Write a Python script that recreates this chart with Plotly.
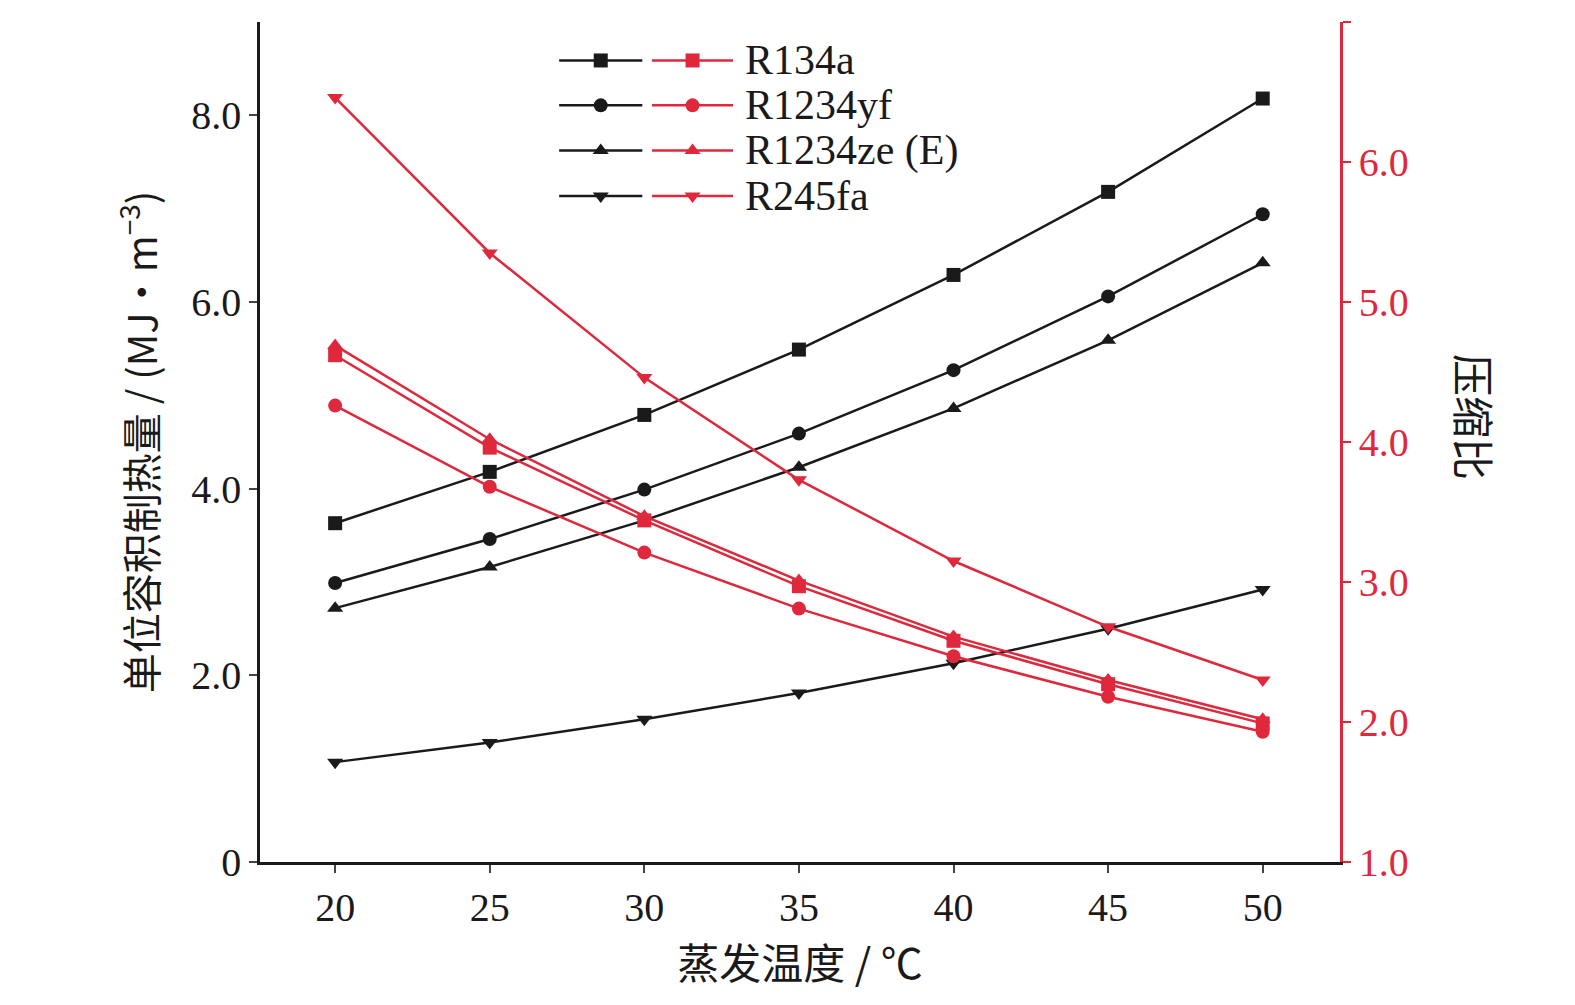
import plotly.graph_objects as go

temps = [20, 25, 30, 35, 40, 45, 50]
names = ["R134a", "R1234yf", "R1234ze (E)", "R245fa"]
symbols = ["square", "circle", "triangle-up", "triangle-down"]
heat_R134a = [3.63, 4.18, 4.79, 5.49, 6.29, 7.18, 8.18]
heat_R1234yf = [2.99, 3.46, 3.99, 4.59, 5.27, 6.06, 6.94]
heat_R1234ze = [2.72, 3.16, 3.66, 4.23, 4.86, 5.59, 6.42]
heat_R245fa = [1.07, 1.28, 1.53, 1.81, 2.13, 2.50, 2.92]
pr_R134a = [4.62, 3.96, 3.44, 2.97, 2.58, 2.27, 1.99]
pr_R1234yf = [4.26, 3.68, 3.21, 2.81, 2.47, 2.18, 1.93]
pr_R1234ze = [4.69, 4.02, 3.47, 3.01, 2.61, 2.30, 2.02]
pr_R245fa = [6.46, 5.35, 4.46, 3.73, 3.15, 2.68, 2.30]
heat = [heat_R134a, heat_R1234yf, heat_R1234ze, heat_R245fa]
pr = [pr_R134a, pr_R1234yf, pr_R1234ze, pr_R245fa]

BLACK = "#1a1a1a"
RED = "#e0283c"
fig = go.Figure()
for n, s, h, p in zip(names, symbols, heat, pr):
    fig.add_trace(go.Scatter(x=temps, y=h, mode="lines+markers", line=dict(color=BLACK, width=2.5),
                             marker=dict(symbol=s, size=14, color=BLACK), showlegend=False))
    fig.add_trace(go.Scatter(x=temps, y=p, yaxis="y2", mode="lines+markers", line=dict(color=RED, width=2.5),
                             marker=dict(symbol=s, size=14, color=RED), showlegend=False))

leg_y = [0.9542, 0.9008, 0.8470, 0.7928]
for n, s, ly in zip(names, symbols, leg_y):
    fig.add_trace(go.Scatter(x=[0.277, 0.3155, 0.354], y=[ly]*3, xaxis="x3", yaxis="y3", mode="lines",
                             line=dict(color=BLACK, width=2.5), showlegend=False, hoverinfo="skip"))
    fig.add_trace(go.Scatter(x=[0.3155], y=[ly], xaxis="x3", yaxis="y3", mode="markers",
                             marker=dict(symbol=s, size=14, color=BLACK), showlegend=False, hoverinfo="skip"))
    fig.add_trace(go.Scatter(x=[0.363, 0.4005, 0.438], y=[ly]*3, xaxis="x3", yaxis="y3", mode="lines",
                             line=dict(color=RED, width=2.5), showlegend=False, hoverinfo="skip"))
    fig.add_trace(go.Scatter(x=[0.4005], y=[ly], xaxis="x3", yaxis="y3", mode="markers",
                             marker=dict(symbol=s, size=14, color=RED), showlegend=False, hoverinfo="skip"))
    fig.add_annotation(x=0.447, y=ly, xref="x3", yref="y3", text=n, showarrow=False, xanchor="left",
                       font=dict(family="Liberation Serif", size=42, color=BLACK))

tf = dict(family="Liberation Serif", size=40)
fig.update_layout(
    width=1575, height=1005, plot_bgcolor="white", paper_bgcolor="white",
    margin=dict(l=252, r=243, t=14, b=151),
    xaxis=dict(range=[17.57, 52.5], tickvals=temps, ticks="outside", ticklen=8, tickwidth=2,
               showline=True, linecolor=BLACK, linewidth=2.5, showgrid=False, zeroline=False,
               tickfont=dict(tf, color=BLACK),
               title=dict(text="蒸发温度 / ℃", font=dict(family="Noto Sans CJK SC", size=42, color=BLACK), standoff=12)),
    yaxis=dict(range=[0, 9], tickvals=[0, 2, 4, 6, 8], ticktext=["0", "2.0", "4.0", "6.0", "8.0"],
               ticks="outside", ticklen=8, tickwidth=2, showline=True, linecolor=BLACK, linewidth=2.5,
               showgrid=False, zeroline=False, tickfont=dict(tf, color=BLACK),
               title=dict(text="单位容积制热量 / (MJ·m<sup>−3</sup>)", font=dict(family="Noto Sans CJK SC", size=40, color=BLACK), standoff=22)),
    yaxis2=dict(range=[1, 7], overlaying="y", side="right", tickvals=[1, 2, 3, 4, 5, 6, 7],
                ticktext=["1.0", "2.0", "3.0", "4.0", "5.0", "6.0", "7.0"], ticks="outside", ticklen=8, tickwidth=2,
                tickcolor=RED, showline=True, linecolor=RED, linewidth=2.5, showgrid=False, zeroline=False,
                tickfont=dict(tf, color=RED)),
    xaxis3=dict(range=[0, 1], overlaying="x", visible=False, fixedrange=True, anchor="y3"),
    yaxis3=dict(range=[0, 1], overlaying="y", visible=False, fixedrange=True, anchor="x3"),
)
fig.add_annotation(x=1.155, y=0.53, xref="paper", yref="paper", text="压缩比", textangle=90, showarrow=False,
                   font=dict(family="Noto Sans CJK SC", size=42, color=BLACK))
fig.write_html("out.html")
